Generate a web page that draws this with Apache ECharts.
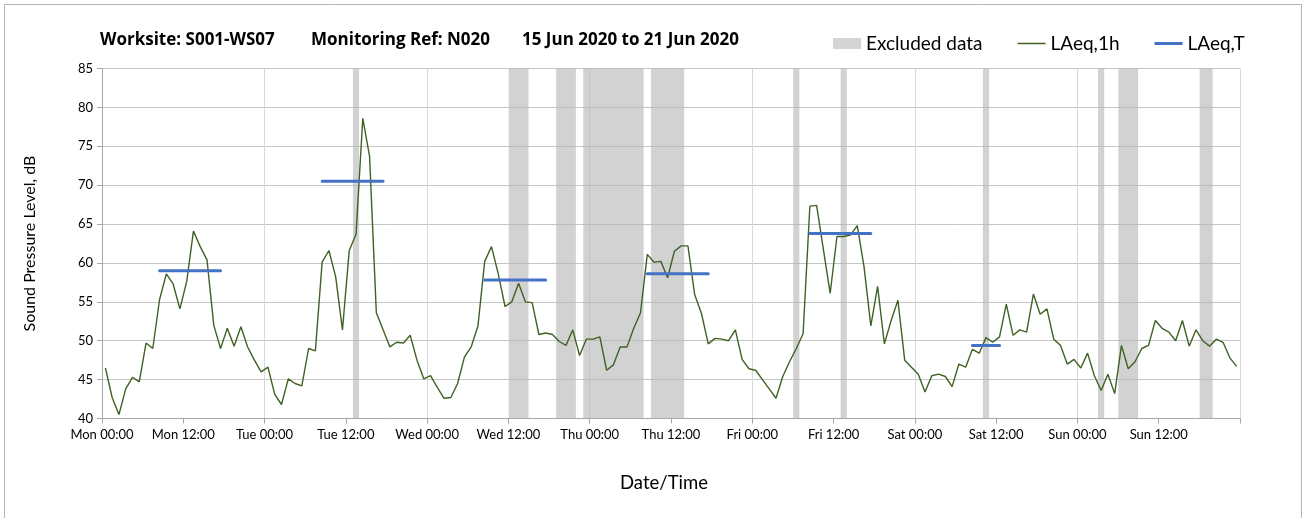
<!DOCTYPE html>
<html>
<head>
<meta charset="utf-8">
<script src="https://cdn.jsdelivr.net/npm/echarts@6/dist/echarts.min.js"></script>
<style>
html,body{margin:0;padding:0;background:#fff;}
#chart{width:1306px;height:518px;}
</style>
</head>
<body>
<div id="chart"></div>
<script>
// ---- data ----
var tickLabels = ['Mon 00:00','Mon 12:00','Tue 00:00','Tue 12:00','Wed 00:00','Wed 12:00','Thu 00:00',
  'Thu 12:00','Fri 00:00','Fri 12:00','Sat 00:00','Sat 12:00','Sun 00:00','Sun 12:00'];

// hourly LAeq,1h values, Mon 00:00 onward (one per hour, plotted at mid-hour)
var laeq1h = [
  46.5, 42.7, 40.5, 43.8, 45.3, 44.7, 49.7, 49.0, 55.3, 58.6, 57.3, 54.1, 57.6, 64.1, 62.1, 60.4, 52.0, 49.0, 51.6, 49.3, 51.8, 49.2, 47.5, 46.0,
  46.6, 43.1, 41.8, 45.1, 44.5, 44.2, 49.0, 48.7, 60.1, 61.6, 58.2, 51.4, 61.6, 63.7, 78.6, 73.7, 53.6, 51.4, 49.2, 49.8, 49.7, 50.7, 47.5, 45.1,
  45.5, 44.0, 42.6, 42.7, 44.5, 47.9, 49.2, 51.9, 60.2, 62.1, 58.6, 54.4, 55.0, 57.4, 55.0, 54.9, 50.8, 51.0, 50.8, 49.9, 49.4, 51.4, 48.1, 50.2,
  50.2, 50.5, 46.2, 46.9, 49.2, 49.2, 51.6, 53.6, 61.1, 60.1, 60.2, 58.1, 61.5, 62.2, 62.2, 55.9, 53.5, 49.6, 50.3, 50.2, 50.0, 51.4, 47.6, 46.4,
  46.2, 45.0, 43.8, 42.6, 45.4, 47.3, 49.0, 50.9, 67.3, 67.4, 61.7, 56.1, 63.4, 63.4, 63.6, 64.8, 59.5, 51.9, 57.0, 49.6, 52.6, 55.2, 47.5, 46.6,
  45.7, 43.4, 45.5, 45.7, 45.4, 44.1, 47.0, 46.6, 48.9, 48.4, 50.4, 49.8, 50.5, 54.7, 50.7, 51.4, 51.1, 56.0, 53.4, 54.1, 50.2, 49.4, 47.0, 47.6,
  46.5, 48.4, 45.5, 43.6, 45.7, 43.2, 49.4, 46.4, 47.3, 49.0, 49.4, 52.6, 51.6, 51.1, 50.0, 52.6, 49.3, 51.4, 50.0, 49.3, 50.2, 49.8, 47.8, 46.7
];

// LAeq,T periods (hours from Mon 00:00) and values
var periodStart = [8.5, 32.5, 56.5, 80.5, 104.5, 128.5];
var periodEnd   = [17.5, 41.5, 65.5, 89.5, 113.5, 132.5];
var laeqT       = [59.0, 70.5, 57.8, 58.6, 63.8, 49.4];

// excluded data periods (hours from Mon 00:00)
var excludedStart = [37, 60, 67, 71, 81, 102, 109, 130, 147, 150, 162];
var excludedEnd   = [38, 63, 70, 80, 86, 103, 110, 131, 148, 153, 164];

// ---- build series data ----
var lineData = laeq1h.map(function (v, i) { return [i + 0.5, v]; });
var tData = [];
for (var k = 0; k < laeqT.length; k++) {
  tData.push([periodStart[k], laeqT[k]]);
  tData.push([periodEnd[k], laeqT[k]]);
  if (k < laeqT.length - 1) tData.push([(periodEnd[k] + periodStart[k + 1]) / 2, null]);
}
var bandData = excludedStart.map(function (s, i) { return [s, excludedEnd[i]]; });

var FONT = 'Lato';
var TITLE_FONT = 'Open Sans';
// thin horizontal line icon inside a 28x11 box (corner specks fix the bounding box)
var LINE_ICON = 'path://M0,0H0.01V0.01H0Z M0,4.8H28V6.3H0Z M27.99,10.99H28V11H27.99Z';

var chart = echarts.init(document.getElementById('chart'), null, {renderer: 'canvas'});
chart.setOption({
  animation: false,
  backgroundColor: '#ffffff',
  textStyle: {fontFamily: FONT},
  title: [
    {text: 'Worksite: S001-WS07', left: 100, top: 32, padding: 0, textStyle: {fontFamily: TITLE_FONT, fontSize: 17, fontWeight: 'bold', color: '#000'}},
    {text: 'Monitoring Ref: N020', left: 311, top: 32, padding: 0, textStyle: {fontFamily: TITLE_FONT, fontSize: 17, fontWeight: 'bold', color: '#000'}},
    {text: '15 Jun 2020 to 21 Jun 2020', left: 522, top: 32, padding: 0, textStyle: {fontFamily: TITLE_FONT, fontSize: 17, fontWeight: 'bold', color: '#000'}}
  ],
  legend: {
    left: 833, top: 34, padding: 0,
    itemWidth: 28, itemHeight: 11, itemGap: 35,
    textStyle: {fontFamily: FONT, fontSize: 19, color: '#000'},
    data: [
      {name: 'Excluded data', icon: 'rect'},
      {name: 'LAeq,1h', icon: LINE_ICON},
      {name: 'LAeq,T', icon: 'path://M0,0H0.01V0.01H0Z M0,4H28V7H0Z M27.99,10.99H28V11H27.99Z'}
    ]
  },
  graphic: [{
    type: 'rect', silent: true, z: -1,
    shape: {x: 4.5, y: 4.5, width: 1297, height: 530},
    style: {fill: 'none', stroke: '#b4b4b4', lineWidth: 1}
  }],
  grid: {left: 102, right: 66, top: 68.5, bottom: 99.5, containLabel: false},
  xAxis: [{
    type: 'value', min: 0, max: 168, interval: 12,
    name: 'Date/Time', nameLocation: 'middle', nameGap: 55,
    nameTextStyle: {fontFamily: FONT, fontSize: 18.5, color: '#000', padding: [0, 14, 0, 0]},
    axisLine: {show: true, lineStyle: {color: '#a6a6a6', width: 1}},
    axisTick: {show: true, length: 5, lineStyle: {color: '#a6a6a6'}},
    axisLabel: {fontFamily: FONT, fontSize: 13, color: '#000', margin: 10,
      formatter: function (v) { var t = tickLabels[Math.round(v / 12)]; return t || ''; }},
    splitLine: {show: false}
  }, {
    type: 'value', min: 0, max: 168, interval: 24, position: 'bottom',
    axisLine: {show: false}, axisTick: {show: false}, axisLabel: {show: false},
    splitLine: {show: true, lineStyle: {color: '#d9d9d9', width: 1}}
  }],
  yAxis: {
    type: 'value', min: 40, max: 85, interval: 5,
    name: 'Sound Pressure Level, dB', nameLocation: 'middle', nameGap: 64,
    nameTextStyle: {fontFamily: FONT, fontSize: 16, color: '#000'},
    axisLine: {show: true, lineStyle: {color: '#a6a6a6', width: 1}},
    axisTick: {show: true, length: 5, lineStyle: {color: '#a6a6a6'}},
    axisLabel: {fontFamily: FONT, fontSize: 13, color: '#000', margin: 9},
    splitLine: {show: true, lineStyle: {color: '#c6c6c6', width: 1}}
  },
  series: [{
    name: 'Excluded data', type: 'custom', xAxisIndex: 0, yAxisIndex: 0,
    itemStyle: {color: '#d4d4d4'},
    data: bandData,
    encode: {x: [0, 1]},
    renderItem: function (params, api) {
      var p0 = api.coord([api.value(0), 85]);
      var p1 = api.coord([api.value(1), 40]);
      var inset = 0.3;
      return {
        type: 'rect',
        shape: {x: p0[0] + inset, y: p0[1], width: p1[0] - p0[0] - 2 * inset, height: p1[1] - p0[1]},
        style: {fill: 'rgba(180,180,180,0.6)'}
      };
    },
    z: 1
  }, {
    name: 'LAeq,1h', type: 'line', xAxisIndex: 0, yAxisIndex: 0,
    data: lineData, symbol: 'none', showSymbol: false,
    lineStyle: {color: '#3f6224', width: 1.4},
    itemStyle: {color: '#3f6224'},
    z: 3
  }, {
    name: 'LAeq,T', type: 'line', xAxisIndex: 0, yAxisIndex: 0,
    data: tData, symbol: 'none', showSymbol: false, connectNulls: false,
    lineStyle: {color: '#4472c4', width: 3, cap: 'round'},
    itemStyle: {color: '#4472c4'},
    z: 4
  }]
});
</script>
</body>
</html>
